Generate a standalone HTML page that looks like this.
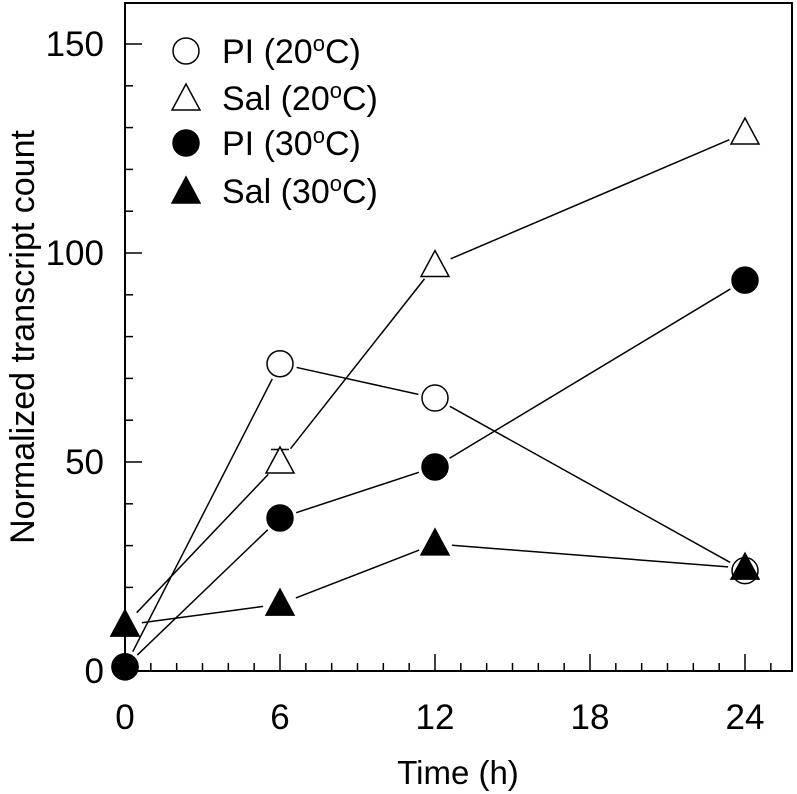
<!DOCTYPE html>
<html><head><meta charset="utf-8"><style>
body{margin:0;background:#fff}
svg{display:block;font-family:"Liberation Sans",Arial,sans-serif}
</style></head><body>
<svg id="c" width="797" height="794"></svg>
<script>
const times=[0,6,12,24];
const pi20=[1,73.5,65.3,24];
const sal20=[11,50,97,128.7];
const pi30=[1,36.6,48.8,93.5];
const sal30=[11,16,30.4,24.6];
const sal20Err=[0,3,0,0];
const yTicks=[0,50,100,150];
const xTickLabels=[0,6,12,18,24];
const NS="http://www.w3.org/2000/svg";
const svg=document.getElementById('c');
const L=125,R=792,T=3,B=671;
const X=t=>L+t*(620/24);
const Y=v=>B-v*(418/100);
function mk(tag,attrs,parent){const e=document.createElementNS(NS,tag);for(const k in attrs)e.setAttribute(k,attrs[k]);(parent||svg).appendChild(e);return e;}
const frame=mk('rect',{x:L,y:T,width:R-L,height:B-T,fill:'none',stroke:'#000','stroke-width':2});


for(let v=0;v<=150;v+=10){const maj=v%50===0;const t=mk('line',{x1:L,x2:L+(maj?17:8),y1:Y(v),y2:Y(v),stroke:'#000','stroke-width':1.5});

}
yTicks.forEach(v=>{const t=mk('text',{x:104,y:Y(v)+12,'text-anchor':'end','font-size':35});t.textContent=v;

});
for(let h=0;h<=25;h++){const maj=h%6===0;const t=mk('line',{x1:X(h),x2:X(h),y1:B,y2:B-(maj?17:8),stroke:'#000','stroke-width':1.5});

}
xTickLabels.forEach(v=>{const t=mk('text',{x:X(v),y:729,'text-anchor':'middle','font-size':35});t.textContent=v;

});
const xt=mk('text',{x:458,y:784,'text-anchor':'middle','font-size':33});xt.textContent='Time (h)';


const yt=mk('text',{x:0,y:0,'text-anchor':'middle','font-size':34,transform:'translate(34,337) rotate(-90)'});yt.textContent='Normalized transcript count';


function marker(kind,cx,cy,g){
 const filled=kind==='fc'||kind==='ft';
 const st={fill:filled?'#000':'#fff',stroke:'#000','stroke-width':1.5};
 if(kind[1]==='c')return mk('circle',Object.assign({cx:cx,cy:cy,r:13},st),g);
 return mk('polygon',Object.assign({points:`${cx},${cy-15} ${cx-14},${cy+11} ${cx+14},${cy+11}`},st),g);
}
function series(name,vals,kind){
 const g=mk('g',{});
 
 
 for(let i=0;i<vals.length-1;i++){
  const x1=X(times[i]),y1=Y(vals[i]),x2=X(times[i+1]),y2=Y(vals[i+1]);
  const dx=x2-x1,dy=y2-y1,d=Math.hypot(dx,dy),g0=17;
  if(d>2*g0){const l=mk('line',{x1:x1+dx/d*g0,y1:y1+dy/d*g0,x2:x2-dx/d*g0,y2:y2-dy/d*g0,stroke:'#000','stroke-width':1.5},g);
  
  }
 }
 vals.forEach((v,i)=>{const m=marker(kind,X(times[i]),Y(v),g);
 
 });
 return g;
}
sal20Err.forEach((e,i)=>{if(e>0){const x=X(times[i]);const l=mk('line',{x1:x,x2:x,y1:Y(sal20[i]),y2:Y(sal20[i]+e),stroke:'#000','stroke-width':1.5});


const c=mk('line',{x1:x-9,x2:x+9,y1:Y(sal20[i]+e),y2:Y(sal20[i]+e),stroke:'#000','stroke-width':1.5});

}});
series('series-sal-20',sal20,'ot');
series('series-pi-20',pi20,'oc');
series('series-sal-30',sal30,'ft');
series('series-pi-30',pi30,'fc');
const leg=[['oc','PI (20','legend-pi-20'],['ot','Sal (20','legend-sal-20'],['fc','PI (30','legend-pi-30'],['ft','Sal (30','legend-sal-30']];
const ly=[51,98,143,191];
leg.forEach((e,i)=>{const g=mk('g',{});


marker(e[0],186,ly[i]+(e[0][1]==='t'?1:0),g);
const t=mk('text',{x:222,y:ly[i]+12,'font-size':34},g);
t.appendChild(document.createTextNode(e[1]));
const s=mk('tspan',{dy:-12,'font-size':22},t);s.textContent='o';
const s2=mk('tspan',{dy:12},t);s2.textContent='C)';
});
</script>
</body></html>
